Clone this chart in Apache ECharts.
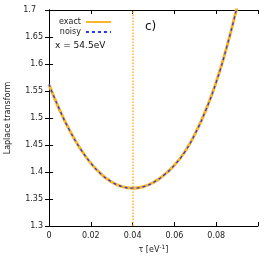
<!DOCTYPE html>
<html><head><meta charset="utf-8">
<script src="https://cdn.jsdelivr.net/npm/echarts@6/dist/echarts.min.js"></script>
<style>html,body{margin:0;padding:0;background:#fff}#c{width:274px;height:267px}</style>
</head><body><div id="c"></div>
<script>
const tau = [0, 0.005, 0.01, 0.015, 0.02, 0.025, 0.03, 0.035, 0.04, 0.045, 0.05, 0.055, 0.06, 0.065, 0.07, 0.075, 0.08, 0.085, 0.09];
const exactValues = [1.5621, 1.5157, 1.4761, 1.4431, 1.4165, 1.396, 1.3815, 1.3729, 1.370, 1.3727, 1.3808, 1.3945, 1.4125, 1.4375, 1.4715, 1.514, 1.5665, 1.6305, 1.7065];
const noisyValues = [1.5625, 1.5160, 1.4760, 1.4433, 1.4166, 1.3958, 1.3816, 1.3730, 1.3702, 1.3726, 1.3809, 1.3944, 1.4127, 1.4374, 1.4716, 1.5142, 1.5664, 1.6307, 1.7063];
const markerTau = 0.04;
const xTicks = ['0', '0.02', '0.04', '0.06', '0.08'];
const seriesNames = ['exact', 'noisy'];

const FONT = 'DejaVu Sans';
const ORANGE = '#f9b52c';
const BLUE = '#2a3ae0';
const chart = echarts.init(document.getElementById('c'), null, {renderer: 'canvas'});
const pair = (xs, ys) => xs.map((x, i) => [x, ys[i]]);
chart.setOption({
  animation: false,
  backgroundColor: '#fff',
  textStyle: {fontFamily: FONT},
  grid: {left: 49, right: 16, top: 10, bottom: 41, containLabel: false, outerBoundsMode: 'none'},
  legend: {
    orient: 'vertical', left: 54, top: 13, align: 'right',
    itemWidth: 25, itemHeight: 8, itemGap: 2,
    itemStyle: {color: 'rgba(0,0,0,0)', borderColor: 'rgba(0,0,0,0)', borderWidth: 0, opacity: 0},
    textStyle: {fontFamily: FONT, fontSize: 8, color: '#222'},
    data: seriesNames
  },
  graphic: [
    {type: 'text', left: 55, top: 41, style: {text: 'x = 54.5eV', font: '9px "DejaVu Sans"', fill: '#111'}},
    {type: 'text', left: 145, top: 21, style: {text: 'c)', font: '12px "DejaVu Sans"', fill: '#111'}}
  ],
  xAxis: [{
    type: 'value', min: 0, max: 0.1, interval: 0.02,
    name: '{n|τ [eV}{s|-1}{n|]}', nameLocation: 'middle', nameGap: 18,
    nameTextStyle: {rich: {n: {fontFamily: FONT, fontSize: 8, color: '#222'}, s: {fontFamily: FONT, fontSize: 6, color: '#222', padding: [0, 0, 5, 0]}}},
    axisLine: {lineStyle: {color: '#000', width: 1}},
    axisTick: {inside: true, length: 4, lineStyle: {color: '#000'}},
    axisLabel: {margin: 6, fontSize: 8, color: '#222', fontFamily: FONT,
      formatter: v => { const i = Math.round(v / 0.02); return i < xTicks.length ? xTicks[i] : ''; }},
    splitLine: {show: false}
  }, {
    type: 'value', position: 'top', min: 0, max: 0.1, interval: 0.02,
    axisLine: {lineStyle: {color: '#000', width: 1}},
    axisTick: {inside: true, length: 4, lineStyle: {color: '#000'}},
    axisLabel: {show: false}, splitLine: {show: false}
  }],
  yAxis: [{
    type: 'value', min: 1.3, max: 1.7, interval: 0.05,
    name: 'Laplace transform', nameLocation: 'middle', nameGap: 35,
    nameTextStyle: {fontFamily: FONT, fontSize: 8, color: '#222'},
    axisLine: {show: true, lineStyle: {color: '#000', width: 1}},
    axisTick: {show: true, inside: true, length: 4, lineStyle: {color: '#000'}},
    axisLabel: {margin: 6, fontSize: 8, color: '#222', fontFamily: FONT,
      formatter: v => { const s = String(Math.round(v * 100) / 100); return s === '1.7' ? '{t|' + s + '}' : s; },
      rich: {t: {fontFamily: FONT, fontSize: 8, color: '#222', padding: [0, 7, 0, 0]}}},
    splitLine: {show: false}
  }, {
    type: 'value', position: 'right', min: 1.3, max: 1.7, interval: 0.05,
    axisLine: {show: true, lineStyle: {color: '#000', width: 1}},
    axisTick: {show: true, inside: true, length: 4, lineStyle: {color: '#000'}},
    axisLabel: {show: false}, splitLine: {show: false}
  }],
  series: [{
    name: seriesNames[0], type: 'line', smooth: true, symbol: 'none', clip: true,
    data: pair(tau, exactValues),
    itemStyle: {color: ORANGE},
    lineStyle: {color: ORANGE, width: 3},
    markLine: {
      silent: true, symbol: 'none', label: {show: false},
      lineStyle: {color: ORANGE, type: [1.5, 1.5], width: 1.5, opacity: 1},
      emphasis: {disabled: true},
      data: [{xAxis: markerTau, lineStyle: {color: ORANGE}}]
    },
    z: 2
  }, {
    name: seriesNames[1], type: 'line', smooth: true, symbol: 'none', clip: true,
    data: pair(tau, noisyValues),
    itemStyle: {color: BLUE},
    lineStyle: {color: BLUE, width: 1.3, type: [3, 3]},
    z: 3
  }]
});
</script></body></html>
